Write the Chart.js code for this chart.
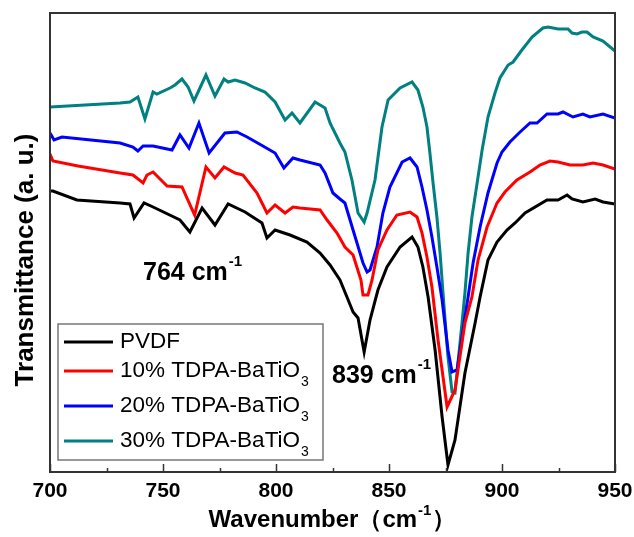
<!DOCTYPE html>
<html>
<head>
<meta charset="utf-8">
<script src="https://cdn.jsdelivr.net/npm/chart.js@4.4.1/dist/chart.umd.min.js"></script>
<style>
  html, body { margin: 0; padding: 0; background: #fff; }
  #wrap { width: 634px; height: 537px; }
</style>
</head>
<body>
<div id="wrap"><canvas id="ftir"></canvas></div>
<script>
// FTIR spectra, transmittance in arbitrary units (curves offset vertically)
var xTicks = [700, 750, 800, 850, 900, 950];

var seriesNames = ['PVDF', '10% TDPA-BaTiO3', '20% TDPA-BaTiO3', '30% TDPA-BaTiO3'];
var seriesColors = ['#000000', '#ff0000', '#0000ff', '#008080'];

var pvdfWn = [700.0, 701.3, 711.9, 731.0, 735.4, 737.2, 741.6, 745.6, 757.5, 761.9, 767.3, 773.0, 778.8, 786.3, 793.8, 796.0, 799.6, 806.2, 813.7, 819.5, 823.9, 828.3, 831.4, 834.1, 836.3, 839.0, 841.6, 845.1, 849.1, 854.9, 860.2, 862.8, 865.0, 867.3, 870.4, 873.5, 876.1, 879.2, 883.6, 888.1, 890.3, 893.8, 897.8, 902.2, 905.8, 910.2, 919.9, 924.8, 928.8, 931.0, 935.8, 941.2, 944.7, 950.0];
var pvdfT = [281, 281, 272, 269, 268, 254, 269, 265, 252, 240, 264, 247, 268, 260, 249, 234, 242, 237, 230, 219, 207, 192, 175, 160, 154, 120, 152, 182, 205, 225, 235, 225, 205, 175, 122, 55, 7, 32, 99, 149, 175, 212, 230, 242, 249, 259, 272, 272, 277, 273, 270, 273, 270, 268];

var bt10Wn = [700.0, 701.3, 712.4, 731.0, 736.7, 741.2, 742.9, 745.6, 751.8, 758.4, 764.0, 769.0, 773.0, 777.0, 781.9, 785.4, 791.6, 796.0, 799.6, 804.0, 807.5, 810.6, 819.5, 822.6, 827.0, 830.5, 834.1, 837.6, 838.5, 840.7, 842.5, 845.1, 849.1, 853.5, 859.3, 862.4, 864.6, 866.8, 869.0, 871.7, 875.7, 879.2, 883.6, 886.7, 889.4, 893.4, 897.8, 901.3, 906.6, 912.4, 916.8, 921.2, 924.8, 930.1, 935.8, 940.3, 944.7, 950.0];
var bt10T = [318, 311, 306, 299, 297, 289, 297, 300, 286, 285, 257, 305, 294, 305, 299, 297, 279, 259, 267, 259, 265, 264, 262, 252, 239, 225, 217, 192, 177, 177, 192, 222, 242, 257, 260, 255, 239, 215, 185, 132, 65, 82, 149, 175, 212, 245, 269, 280, 292, 300, 307, 311, 310, 307, 307, 309, 307, 303];

var bt20Wn = [700.0, 701.8, 705.3, 731.0, 736.7, 738.9, 741.2, 745.6, 754.0, 757.5, 761.5, 765.9, 770.4, 777.4, 782.7, 787.2, 794.2, 799.6, 803.5, 807.5, 810.6, 819.5, 821.7, 825.2, 828.3, 830.5, 834.1, 838.5, 840.3, 841.6, 844.7, 847.3, 850.4, 855.8, 859.3, 862.4, 864.6, 866.8, 869.0, 871.2, 873.5, 876.1, 877.9, 880.1, 883.6, 885.0, 887.2, 890.3, 893.8, 897.8, 900.0, 903.5, 908.0, 912.4, 915.5, 919.9, 924.8, 927.0, 931.4, 935.8, 938.9, 944.7, 950.0];
var bt20T = [339, 332, 335, 329, 325, 321, 326, 326, 322, 337, 324, 349, 319, 339, 340, 335, 326, 319, 304, 314, 312, 307, 299, 279, 273, 269, 242, 209, 200, 202, 225, 259, 285, 310, 314, 305, 285, 262, 235, 205, 172, 122, 100, 102, 155, 175, 209, 245, 279, 309, 320, 330, 340, 349, 349, 358, 358, 360, 355, 358, 355, 358, 354];

var bt30Wn = [700.0, 731.0, 735.4, 738.9, 742.0, 745.6, 747.3, 753.1, 755.3, 758.4, 761.1, 763.7, 769.0, 773.0, 777.0, 778.8, 781.9, 786.3, 790.7, 795.1, 799.6, 804.0, 807.1, 810.6, 817.3, 819.5, 821.7, 823.9, 828.3, 830.5, 833.6, 836.3, 839.0, 840.3, 843.8, 846.9, 849.6, 854.9, 860.2, 862.8, 865.0, 866.8, 868.1, 869.5, 871.2, 872.6, 873.9, 876.1, 877.9, 879.2, 882.3, 883.6, 885.0, 886.7, 889.0, 891.2, 893.8, 896.9, 899.1, 902.7, 904.9, 908.8, 913.3, 918.1, 920.4, 924.8, 929.2, 931.0, 933.2, 935.4, 937.6, 940.3, 944.7, 950.0];
var bt30T = [365, 369, 370, 375, 353, 380, 378, 384, 387, 393, 385, 371, 397, 376, 393, 390, 392, 389, 384, 380, 370, 352, 359, 349, 370, 367, 364, 349, 329, 320, 292, 259, 250, 259, 292, 345, 372, 384, 390, 382, 365, 345, 319, 289, 255, 219, 179, 115, 80, 79, 149, 179, 219, 255, 289, 322, 355, 379, 394, 407, 410, 422, 435, 444, 445, 443, 443, 439, 438, 440, 440, 435, 431, 421];

var SANS = '"Liberation Sans", Arial, sans-serif';

function toPoints(wn, t) {
  return wn.map(function (w, i) { return { x: w, y: t[i] }; });
}

var allWn = [pvdfWn, bt10Wn, bt20Wn, bt30Wn];
var allT = [pvdfT, bt10T, bt20T, bt30T];

var datasets = seriesNames.map(function (name, i) {
  return {
    label: name,
    data: toPoints(allWn[i], allT[i]),
    borderColor: seriesColors[i],
    borderWidth: 3,
    pointRadius: 0,
    tension: 0,
    fill: false
  };
});

// text with a raised (sup) or lowered (sub) tail
function drawScript(ctx, base, tail, x, y, font, tailFont, dy) {
  ctx.font = font;
  ctx.fillText(base, x, y);
  var w = ctx.measureText(base).width;
  ctx.font = tailFont;
  ctx.fillText(tail, x + w + 1, y + dy);
  return x + w + 1 + ctx.measureText(tail).width;
}

var decorations = {
  id: 'decorations',
  afterDraw: function (chart) {
    var ctx = chart.ctx;
    var a = chart.chartArea;
    var xs = chart.scales.x;
    ctx.save();

    // frame
    ctx.strokeStyle = '#333';
    ctx.lineWidth = 2;
    ctx.strokeRect(a.left, a.top, a.right - a.left, a.bottom - a.top);

    // inward ticks on the bottom axis
    ctx.lineWidth = 1.5;
    for (var v = 700; v <= 950; v += 25) {
      var px = Math.round(xs.getPixelForValue(v)) + 0.5;
      var len = (v % 50 === 0) ? 8 : 4;
      ctx.beginPath();
      ctx.moveTo(px, a.bottom);
      ctx.lineTo(px, a.bottom - len);
      ctx.stroke();
    }

    ctx.fillStyle = '#000';
    ctx.textBaseline = 'middle';

    // tick labels
    ctx.textAlign = 'center';
    ctx.font = 'bold 21px ' + SANS;
    xTicks.forEach(function (t) {
      ctx.fillText(String(t), xs.getPixelForValue(t), a.bottom + 19);
    });
    ctx.textAlign = 'left';

    // axis titles
    var xt = 'Wavenumber（cm';
    ctx.font = 'bold 24px ' + SANS;
    var wT = ctx.measureText(xt).width;
    ctx.font = 'bold 15px ' + SANS;
    var wS = ctx.measureText('-1').width;
    ctx.font = 'bold 24px ' + SANS;
    var wP = ctx.measureText('）').width;
    var xStart = (a.left + a.right) / 2 - (wT + wS + wP + 2) / 2;
    var xEnd = drawScript(ctx, xt, '-1', xStart, 520, 'bold 24px ' + SANS, 'bold 15px ' + SANS, -9);
    ctx.font = 'bold 24px ' + SANS;
    ctx.fillText('）', xEnd + 1, 520);

    ctx.save();
    ctx.translate(33, 260);
    ctx.rotate(-Math.PI / 2);
    ctx.textAlign = 'center';
    ctx.textBaseline = 'alphabetic';
    ctx.font = 'bold 26px ' + SANS;
    ctx.fillText('Transmittance (a. u.)', 0, 0);
    ctx.restore();

    // peak annotations
    drawScript(ctx, '764 cm', '-1', 143, 273, 'bold 25px ' + SANS, 'bold 15px ' + SANS, -11);
    drawScript(ctx, '839 cm', '-1', 332, 376, 'bold 25px ' + SANS, 'bold 15px ' + SANS, -11);

    // legend
    var lx = a.left + 8, ly = a.top + 311;
    ctx.strokeStyle = '#777';
    ctx.lineWidth = 1.5;
    ctx.strokeRect(lx, ly, 265, 136);
    var rows = [342, 371, 406, 441];
    chart.data.datasets.forEach(function (ds, i) {
      var y = rows[i];
      ctx.strokeStyle = ds.borderColor;
      ctx.lineWidth = 3;
      ctx.beginPath();
      ctx.moveTo(lx + 6, y);
      ctx.lineTo(lx + 55, y);
      ctx.stroke();
      ctx.fillStyle = '#000';
      var m = ds.label.match(/^(.*O)(3)$/);
      if (m) {
        drawScript(ctx, m[1], m[2], lx + 62, y, '22.5px ' + SANS, '14px ' + SANS, 11);
      } else {
        ctx.font = '22.5px ' + SANS;
        ctx.fillText(ds.label, lx + 62, y);
      }
    });

    ctx.restore();
  }
};

new Chart(document.getElementById('ftir'), {
  type: 'line',
  data: { datasets: datasets },
  options: {
    responsive: true,
    maintainAspectRatio: false,
    animation: false,
    layout: { padding: { left: 50, right: 19, top: 13, bottom: 65 } },
    plugins: {
      legend: { display: false },
      tooltip: { enabled: false }
    },
    scales: {
      x: {
        type: 'linear',
        min: 700,
        max: 950,
        grid: { display: false, drawTicks: false },
        border: { display: false },
        ticks: { display: false }
      },
      y: {
        display: false,
        min: 0,
        max: 459
      }
    }
  },
  plugins: [decorations]
});
</script>
</body>
</html>
